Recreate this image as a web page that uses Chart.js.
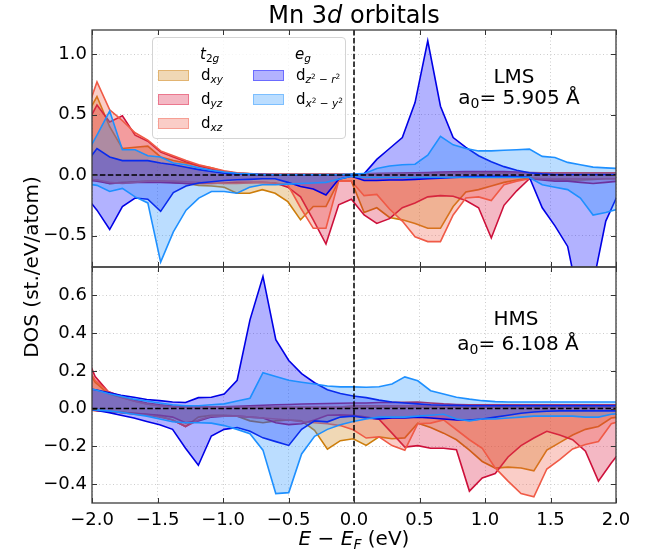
<!DOCTYPE html>
<html>
<head>
<meta charset="utf-8">
<script src="https://cdn.jsdelivr.net/npm/chart.js@4.4.1/dist/chart.umd.min.js"></script>
<style>
  body { margin: 0; background: #fff; }
  #fig { position: relative; width: 667px; height: 550px; overflow: hidden; font-family: 'DejaVu Sans', sans-serif; color: #000; }
  canvas { position: absolute; left: 0; }
  .txt { position: absolute; white-space: nowrap; text-align: center; }
  sub { font-size: 70%; vertical-align: -0.3em; line-height: 0; }
  sup { font-size: 70%; vertical-align: 0.5em; line-height: 0; }
  #legend { position: absolute; left: 152px; top: 37px; width: 192px; height: 100px; border: 1px solid #d4d4d4; border-radius: 4px; background: rgba(255,255,255,0.8); }
  .lg { position: absolute; font-size: 15px; line-height: 15px; transform: translateY(-50%); white-space: nowrap; }
  .sw { position: absolute; width: 29px; height: 9px; border: 1px solid; }
</style>
</head>
<body>
<div id="fig">
  <canvas id="top" width="667" height="268" style="top:0"></canvas>
  <canvas id="bot" width="667" height="288" style="top:262px"></canvas>

  <div class="txt" style="left:154px;top:3px;width:400px;font-size:24px;line-height:24px">Mn 3<i>d</i> orbitals</div>
  <div class="txt" style="left:-119px;top:257px;width:300px;font-size:20px;line-height:20px;transform:rotate(-90deg)">DOS (st./eV/atom)</div>
  <div class="txt" style="left:204px;top:528px;width:300px;font-size:20px;line-height:20px"><i>E</i> − <i>E</i><sub><i>F</i></sub> (eV)</div>

  <div class="txt" style="left:414px;top:66px;width:200px;font-size:20px;line-height:20px">LMS</div>
  <div class="txt" style="left:419px;top:87px;width:200px;font-size:20px;line-height:20px">a<sub>0</sub>= 5.905 Å</div>
  <div class="txt" style="left:416px;top:308px;width:200px;font-size:20px;line-height:20px">HMS</div>
  <div class="txt" style="left:418px;top:333px;width:200px;font-size:20px;line-height:20px">a<sub>0</sub>= 6.108 Å</div>

  <div id="legend">
    <div class="lg" style="left:47px;top:16px"><i>t</i><sub>2<i>g</i></sub></div>
    <div class="lg" style="left:142px;top:16px"><i>e</i><sub><i>g</i></sub></div>
    <span class="sw" style="left:5px;top:32px;background:rgba(205,125,10,.3);border-color:rgba(205,125,10,.4)"></span>
    <div class="lg" style="left:48px;top:37px">d<sub><i>xy</i></sub></div>
    <span class="sw" style="left:5px;top:56px;background:rgba(220,20,60,.3);border-color:rgba(220,20,60,.4)"></span>
    <div class="lg" style="left:48px;top:61px">d<sub><i>yz</i></sub></div>
    <span class="sw" style="left:5px;top:80px;background:rgba(240,90,70,.3);border-color:rgba(240,90,70,.4)"></span>
    <div class="lg" style="left:48px;top:85px">d<sub><i>xz</i></sub></div>
    <span class="sw" style="left:100px;top:32px;background:rgba(0,0,255,.3);border-color:rgba(0,0,255,.4)"></span>
    <div class="lg" style="left:143px;top:37px">d<sub><i>z</i><sup>2</sup> − <i>r</i><sup>2</sup></sub></div>
    <span class="sw" style="left:100px;top:56px;background:rgba(30,144,255,.3);border-color:rgba(30,144,255,.4)"></span>
    <div class="lg" style="left:143px;top:61px">d<sub><i>x</i><sup>2</sup> − <i>y</i><sup>2</sup></sub></div>
  </div>
</div>

<script>
// energy grids (eV, relative to E_F) for the two lattice constants
const eTop = [-2.059,-1.962,-1.865,-1.768,-1.671,-1.574,-1.476,-1.379,-1.282,-1.185,-1.088,-0.991,-0.894,-0.797,-0.700,-0.602,-0.505,-0.408,-0.311,-0.214,-0.117,-0.020,0.077,0.174,0.271,0.369,0.466,0.563,0.660,0.757,0.854,0.951,1.048,1.145,1.242,1.339,1.437,1.534,1.631,1.728,1.825,1.922,2.019];
const eBot = [-2.074,-1.976,-1.877,-1.779,-1.680,-1.582,-1.483,-1.385,-1.286,-1.188,-1.089,-0.991,-0.892,-0.794,-0.695,-0.597,-0.498,-0.400,-0.301,-0.203,-0.104,-0.006,0.093,0.191,0.290,0.388,0.487,0.585,0.684,0.782,0.881,0.979,1.078,1.176,1.275,1.373,1.472,1.570,1.669,1.767,1.866,1.964,2.063];

const xTicks = [-2, -1.5, -1, -0.5, 0, 0.5, 1, 1.5, 2];
const yTicksTop = [-0.5, 0, 0.5, 1.0];
const yTicksBot = [-0.4, -0.2, 0, 0.2, 0.4, 0.6];

// LMS, a0 = 5.905 A  (up = spin up, dn = spin down)
const dxyUpT = [0.46,0.65,0.40,0.22,0.23,0.24,0.15,0.12,0.10,0.08,0.06,0.03,0.015,0.01,0.006,0.005,0.005,0.005,0.005,0.005,0.005,0.005,0.01,0.01,0.01,0.012,0.015,0.015,0.015,0.018,0.02,0.02,0.02,0.02,0.02,0.02,0.02,0.02,0.02,0.02,0.02,0.02,0.02];
const dxyDnT = [-0.03,-0.04,-0.07,-0.06,-0.055,-0.05,-0.05,-0.06,-0.07,-0.085,-0.09,-0.10,-0.15,-0.15,-0.12,-0.15,-0.22,-0.37,-0.26,-0.26,-0.05,-0.05,-0.31,-0.27,-0.35,-0.37,-0.40,-0.44,-0.44,-0.26,-0.14,-0.12,-0.09,-0.06,-0.04,-0.025,-0.03,-0.035,-0.04,-0.04,-0.035,-0.03,-0.03];
const dyzUpT = [0.38,0.58,0.44,0.49,0.33,0.28,0.19,0.15,0.11,0.075,0.05,0.03,0.015,0.01,0.006,0.006,0.006,0.006,0.006,0.006,0.006,0.006,0.01,0.012,0.015,0.018,0.02,0.022,0.025,0.028,0.03,0.03,0.03,0.03,0.025,0.022,0.02,0.02,0.02,0.02,0.02,0.02,0.02];
const dyzDnT = [-0.04,-0.05,-0.07,-0.065,-0.06,-0.06,-0.06,-0.065,-0.07,-0.07,-0.07,-0.065,-0.06,-0.06,-0.06,-0.065,-0.10,-0.18,-0.37,-0.57,-0.245,-0.20,-0.33,-0.40,-0.36,-0.27,-0.23,-0.18,-0.17,-0.175,-0.21,-0.27,-0.52,-0.25,-0.13,-0.03,-0.04,-0.05,-0.05,-0.06,-0.07,-0.06,-0.05];
const dxzUpT = [0.47,0.77,0.54,0.45,0.35,0.29,0.20,0.16,0.12,0.085,0.06,0.035,0.02,0.012,0.006,0.006,0.006,0.006,0.006,0.006,0.006,0.006,0.01,0.012,0.012,0.012,0.013,0.013,0.014,0.015,0.015,0.015,0.015,0.015,0.015,0.015,0.015,0.015,0.015,0.015,0.015,0.015,0.015];
const dxzDnT = [-0.03,-0.04,-0.06,-0.07,-0.06,-0.05,-0.05,-0.05,-0.055,-0.06,-0.065,-0.07,-0.07,-0.065,-0.06,-0.065,-0.08,-0.27,-0.44,-0.44,-0.05,-0.05,-0.17,-0.16,-0.28,-0.38,-0.51,-0.55,-0.55,-0.33,-0.19,-0.18,-0.21,-0.08,-0.05,-0.03,-0.03,-0.03,-0.03,-0.03,-0.03,-0.03,-0.03];
const dz2UpT = [0.08,0.22,0.15,0.12,0.12,0.12,0.10,0.085,0.065,0.045,0.03,0.015,0.01,0.006,0.004,0.003,0.003,0.003,0.003,0.003,0.003,0.003,0.01,0.13,0.22,0.31,0.60,1.11,0.57,0.31,0.23,0.16,0.11,0.07,0.04,0.02,0.01,0.005,0.005,0.005,0.005,0.005,0.005];
const dz2DnT = [-0.16,-0.29,-0.45,-0.26,-0.19,-0.20,-0.30,-0.145,-0.09,-0.065,-0.055,-0.045,-0.038,-0.035,-0.03,-0.03,-0.06,-0.095,-0.115,-0.165,-0.035,-0.01,-0.045,-0.045,-0.04,-0.04,-0.035,-0.03,-0.025,-0.02,-0.015,-0.01,-0.01,-0.01,-0.012,-0.017,-0.27,-0.42,-0.59,-1.10,-0.90,-0.38,-0.15];
const dx2UpT = [0.14,0.33,0.53,0.21,0.21,0.16,0.15,0.10,0.085,0.06,0.04,0.025,0.015,0.01,0.005,0.005,0.005,0.005,0.005,0.005,0.005,0.008,0.012,0.055,0.075,0.085,0.09,0.165,0.32,0.25,0.22,0.20,0.20,0.205,0.21,0.215,0.155,0.145,0.105,0.085,0.066,0.06,0.055];
const dx2DnT = [-0.07,-0.085,-0.135,-0.11,-0.18,-0.23,-0.72,-0.47,-0.29,-0.19,-0.135,-0.135,-0.15,-0.10,-0.08,-0.08,-0.075,-0.07,-0.065,-0.06,-0.035,-0.01,-0.02,-0.02,-0.02,-0.02,-0.02,-0.02,-0.02,-0.02,-0.02,-0.02,-0.02,-0.02,-0.02,-0.02,-0.08,-0.10,-0.12,-0.19,-0.33,-0.31,-0.28];

// HMS, a0 = 6.108 A
const dxyUpB = [0.25,0.14,0.08,0.06,0.04,0.025,0.015,0.01,0.007,0.006,0.006,0.006,0.006,0.006,0.006,0.006,0.006,0.006,0.006,0.006,0.006,0.008,0.008,0.008,0.008,0.008,0.008,0.008,0.008,0.008,0.008,0.008,0.008,0.008,0.008,0.008,0.008,0.008,0.008,0.008,0.008,0.008,0.008];
const dxyDnB = [-0.005,-0.01,-0.015,-0.02,-0.025,-0.03,-0.04,-0.06,-0.095,-0.045,-0.035,-0.035,-0.04,-0.065,-0.075,-0.065,-0.06,-0.065,-0.115,-0.215,-0.17,-0.16,-0.195,-0.15,-0.16,-0.155,-0.077,-0.10,-0.13,-0.165,-0.22,-0.28,-0.315,-0.31,-0.315,-0.33,-0.22,-0.18,-0.14,-0.11,-0.095,-0.05,-0.04];
const dyzUpB = [0.33,0.17,0.09,0.065,0.045,0.03,0.02,0.013,0.01,0.008,0.008,0.01,0.012,0.015,0.018,0.02,0.022,0.024,0.026,0.027,0.028,0.03,0.03,0.032,0.033,0.034,0.035,0.03,0.025,0.022,0.02,0.02,0.02,0.02,0.02,0.02,0.02,0.02,0.02,0.02,0.02,0.02,0.02];
const dyzDnB = [-0.005,-0.01,-0.015,-0.02,-0.025,-0.03,-0.035,-0.045,-0.075,-0.065,-0.045,-0.04,-0.04,-0.045,-0.05,-0.075,-0.085,-0.08,-0.06,-0.035,-0.033,-0.035,-0.045,-0.056,-0.13,-0.204,-0.196,-0.21,-0.21,-0.218,-0.437,-0.367,-0.344,-0.256,-0.196,-0.156,-0.12,-0.14,-0.165,-0.226,-0.384,-0.288,-0.20];
const dxzUpB = [0.26,0.15,0.09,0.06,0.04,0.025,0.015,0.01,0.008,0.008,0.008,0.008,0.008,0.008,0.008,0.008,0.008,0.008,0.008,0.008,0.008,0.015,0.015,0.015,0.015,0.015,0.015,0.015,0.015,0.015,0.015,0.015,0.015,0.015,0.015,0.015,0.015,0.015,0.015,0.015,0.015,0.015,0.015];
const dxzDnB = [-0.005,-0.01,-0.015,-0.02,-0.03,-0.035,-0.045,-0.06,-0.095,-0.06,-0.04,-0.04,-0.04,-0.045,-0.05,-0.055,-0.06,-0.07,-0.075,-0.08,-0.09,-0.112,-0.156,-0.15,-0.196,-0.22,-0.08,-0.077,-0.06,-0.112,-0.165,-0.21,-0.314,-0.384,-0.45,-0.467,-0.32,-0.27,-0.214,-0.19,-0.174,-0.08,-0.06];
const dz2UpB = [0.11,0.10,0.085,0.07,0.06,0.048,0.042,0.035,0.032,0.058,0.06,0.077,0.15,0.47,0.70,0.365,0.255,0.185,0.137,0.10,0.08,0.067,0.058,0.045,0.035,0.03,0.025,0.02,0.018,0.017,0.015,0.015,0.015,0.015,0.015,0.015,0.015,0.015,0.015,0.015,0.015,0.015,0.015];
const dz2DnB = [-0.005,-0.008,-0.02,-0.035,-0.05,-0.068,-0.085,-0.11,-0.21,-0.30,-0.145,-0.11,-0.10,-0.12,-0.155,-0.175,-0.195,-0.11,-0.065,-0.07,-0.045,-0.04,-0.05,-0.055,-0.05,-0.05,-0.045,-0.05,-0.055,-0.06,-0.06,-0.055,-0.045,-0.035,-0.025,-0.018,-0.014,-0.012,-0.012,-0.012,-0.012,-0.012,-0.012];
const dx2UpB = [0.11,0.10,0.08,0.065,0.05,0.04,0.03,0.02,0.015,0.015,0.02,0.025,0.04,0.055,0.19,0.17,0.15,0.14,0.13,0.12,0.115,0.115,0.113,0.116,0.13,0.168,0.147,0.095,0.077,0.06,0.05,0.042,0.037,0.035,0.035,0.035,0.035,0.035,0.035,0.035,0.035,0.035,0.035];
const dx2DnB = [-0.003,-0.007,-0.012,-0.02,-0.03,-0.04,-0.055,-0.07,-0.075,-0.075,-0.077,-0.09,-0.11,-0.133,-0.22,-0.45,-0.445,-0.24,-0.147,-0.11,-0.086,-0.068,-0.055,-0.045,-0.045,-0.045,-0.04,-0.035,-0.03,-0.055,-0.065,-0.055,-0.055,-0.05,-0.045,-0.04,-0.04,-0.04,-0.04,-0.045,-0.045,-0.03,-0.025];

const FONT = 'DejaVu Sans';
const fmt = v => (v < 0 ? '\u2212' : '') + Math.abs(v).toFixed(1);

const orbColors = [
  { line: 'rgb(205,125,10)', fill: 'rgba(205,125,10,0.3)' },   // dxy
  { line: 'rgb(205,16,58)',  fill: 'rgba(220,20,60,0.3)' },    // dyz
  { line: 'rgb(240,90,70)',  fill: 'rgba(240,90,70,0.3)' },    // dxz
  { line: 'rgb(0,0,230)',    fill: 'rgba(0,0,255,0.3)' },      // dz2-r2
  { line: 'rgb(30,144,255)', fill: 'rgba(30,144,255,0.3)' },   // dx2-y2
];

// fermi level lines, inward ticks and the frame
const decor = {
  id: 'decor',
  afterDatasetsDraw(chart) {
    const { ctx, chartArea: a, scales: { x, y } } = chart;
    const x0 = x.getPixelForValue(0), y0 = y.getPixelForValue(0);
    ctx.save();
    ctx.strokeStyle = '#000'; ctx.lineWidth = 1.5; ctx.setLineDash([5.5, 2.4]);
    ctx.beginPath(); ctx.moveTo(a.left, y0); ctx.lineTo(a.right, y0); ctx.stroke();
    ctx.beginPath(); ctx.moveTo(x0, a.top); ctx.lineTo(x0, a.bottom); ctx.stroke();
    ctx.restore();
  },
  afterDraw(chart) {
    const { ctx, chartArea: a, scales: { x, y } } = chart;
    ctx.save();
    ctx.strokeStyle = '#333'; ctx.lineWidth = 1;
    ctx.beginPath();
    x.ticks.forEach(t => {
      const p = Math.round(x.getPixelForValue(t.value)) + 0.5;
      ctx.moveTo(p, a.top); ctx.lineTo(p, a.top + 5);
      ctx.moveTo(p, a.bottom); ctx.lineTo(p, a.bottom - 5);
    });
    y.ticks.forEach(t => {
      const p = Math.round(y.getPixelForValue(t.value)) + 0.5;
      ctx.moveTo(a.left, p); ctx.lineTo(a.left + 5, p);
      ctx.moveTo(a.right, p); ctx.lineTo(a.right - 5, p);
    });
    ctx.stroke();
    ctx.strokeStyle = '#3c3c3c'; ctx.lineWidth = 1.3;
    ctx.strokeRect(a.left, a.top, a.width, a.height);
    ctx.restore();
  }
};

function panel(id, xs, series, yMin, yMax, yTicks, showX, padTop, padBottom, xHeight) {
  const datasets = [];
  series.forEach((s, i) => {
    [s[0], s[1]].forEach(arr => datasets.push({
      data: xs.map((x, k) => ({ x, y: arr[k] })),
      borderColor: orbColors[i].line,
      backgroundColor: orbColors[i].fill,
      fill: 'origin',
      borderWidth: 1.6,
      pointRadius: 0,
      tension: 0,
      order: series.length - i
    }));
  });
  const grid = { color: '#cdcdcd', lineWidth: 1, drawTicks: false };
  return new Chart(document.getElementById(id), {
    type: 'line',
    data: { datasets },
    options: {
      responsive: false, animation: false, events: [],
      layout: { padding: { top: padTop, right: 51, bottom: padBottom, left: 0 } },
      plugins: { legend: { display: false }, tooltip: { enabled: false } },
      scales: {
        x: {
          type: 'linear', min: -2, max: 2,
          afterBuildTicks: s => { s.ticks = xTicks.map(value => ({ value })); },
          ticks: { display: showX, color: '#000', font: { family: FONT, size: 18 }, padding: 7, maxRotation: 0, autoSkip: false, callback: fmt },
          grid, border: { display: false, dash: [1, 2.5] },
          afterFit: s => { s.height = xHeight; s.paddingLeft = 0; s.paddingRight = 0; }
        },
        y: {
          min: yMin, max: yMax,
          afterBuildTicks: s => { s.ticks = yTicks.map(value => ({ value })); },
          ticks: { color: '#000', font: { family: FONT, size: 18 }, padding: 5, callback: fmt },
          grid, border: { display: false, dash: [1, 2.5] },
          afterFit: s => { s.width = 92; s.paddingTop = 0; s.paddingBottom = 0; }
        }
      }
    },
    plugins: [decor]
  });
}

panel('top', eTop, [
  [dxyUpT, dxyDnT], [dyzUpT, dyzDnT], [dxzUpT, dxzDnT], [dz2UpT, dz2DnT], [dx2UpT, dx2DnT]
], -0.76, 1.2, yTicksTop, false, 30, 1, 0);

panel('bot', eBot, [
  [dxyUpB, dxyDnB], [dyzUpB, dyzDnB], [dxzUpB, dxzDnB], [dz2UpB, dz2DnB], [dx2UpB, dx2DnB]
], -0.5, 0.75, yTicksBot, true, 5, 0, 47);
</script>
</body>
</html>
